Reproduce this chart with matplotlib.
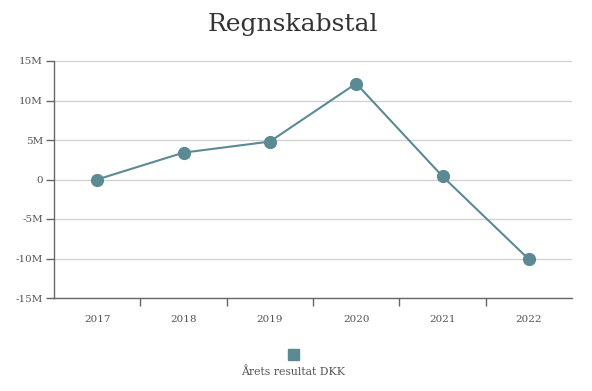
import matplotlib.pyplot as plt
from matplotlib.patches import Rectangle

years = ['2017', '2018', '2019', '2020', '2021', '2022']
resultat = [0.0, 3.4, 4.8, 12.15, 0.4, -10.1]  # mio. DKK
yticks = [-15, -10, -5, 0, 5, 10, 15]
ylabels = ['-15M', '-10M', '-5M', '0', '5M', '10M', '15M']

farve = '#5b8a93'
plt.rcParams['font.family'] = ['DejaVu Serif']

fig = plt.figure(figsize=(5.92, 3.91), dpi=100)
ax = fig.add_axes([54/592, 1-298/391, 518/592, 237/391])

x = range(len(years))
ax.plot(x, resultat, color=farve, lw=1.5, marker='o', ms=8.5, zorder=3)

ax.set_xlim(-0.5, 5.5)
ax.set_ylim(-15, 15)
ax.set_yticks(yticks)
ax.set_yticklabels(ylabels)
ax.set_xticks(x)
ax.set_xticklabels(years)
ax.set_xticks([i + 0.5 for i in range(5)], minor=True)
ax.tick_params(axis='x', which='major', length=0, pad=12, labelsize=7.5, labelcolor='#555555')
ax.tick_params(axis='x', which='minor', length=6, color='#666666', width=1)
ax.tick_params(axis='y', length=6, color='#666666', width=1, pad=2, labelsize=7.5, labelcolor='#555555')
ax.grid(axis='y', color='#d0d0d0', lw=0.9)
ax.set_axisbelow(True)
for s in ['top', 'right']:
    ax.spines[s].set_visible(False)
for s in ['left', 'bottom']:
    ax.spines[s].set_color('#666666')
    ax.spines[s].set_linewidth(1)

fig.text(293/592, 1-25/391, 'Regnskabstal', ha='center', va='center', fontsize=18, color='#333333')
fig.add_artist(Rectangle((288/592, 1-360/391), 11/592, 11/391, color=farve, transform=fig.transFigure))
fig.text(293/592, 1-372/391, 'Årets resultat DKK', ha='center', va='center', fontsize=7.8, color='#555555')

fig.savefig('out.png', dpi=100)
